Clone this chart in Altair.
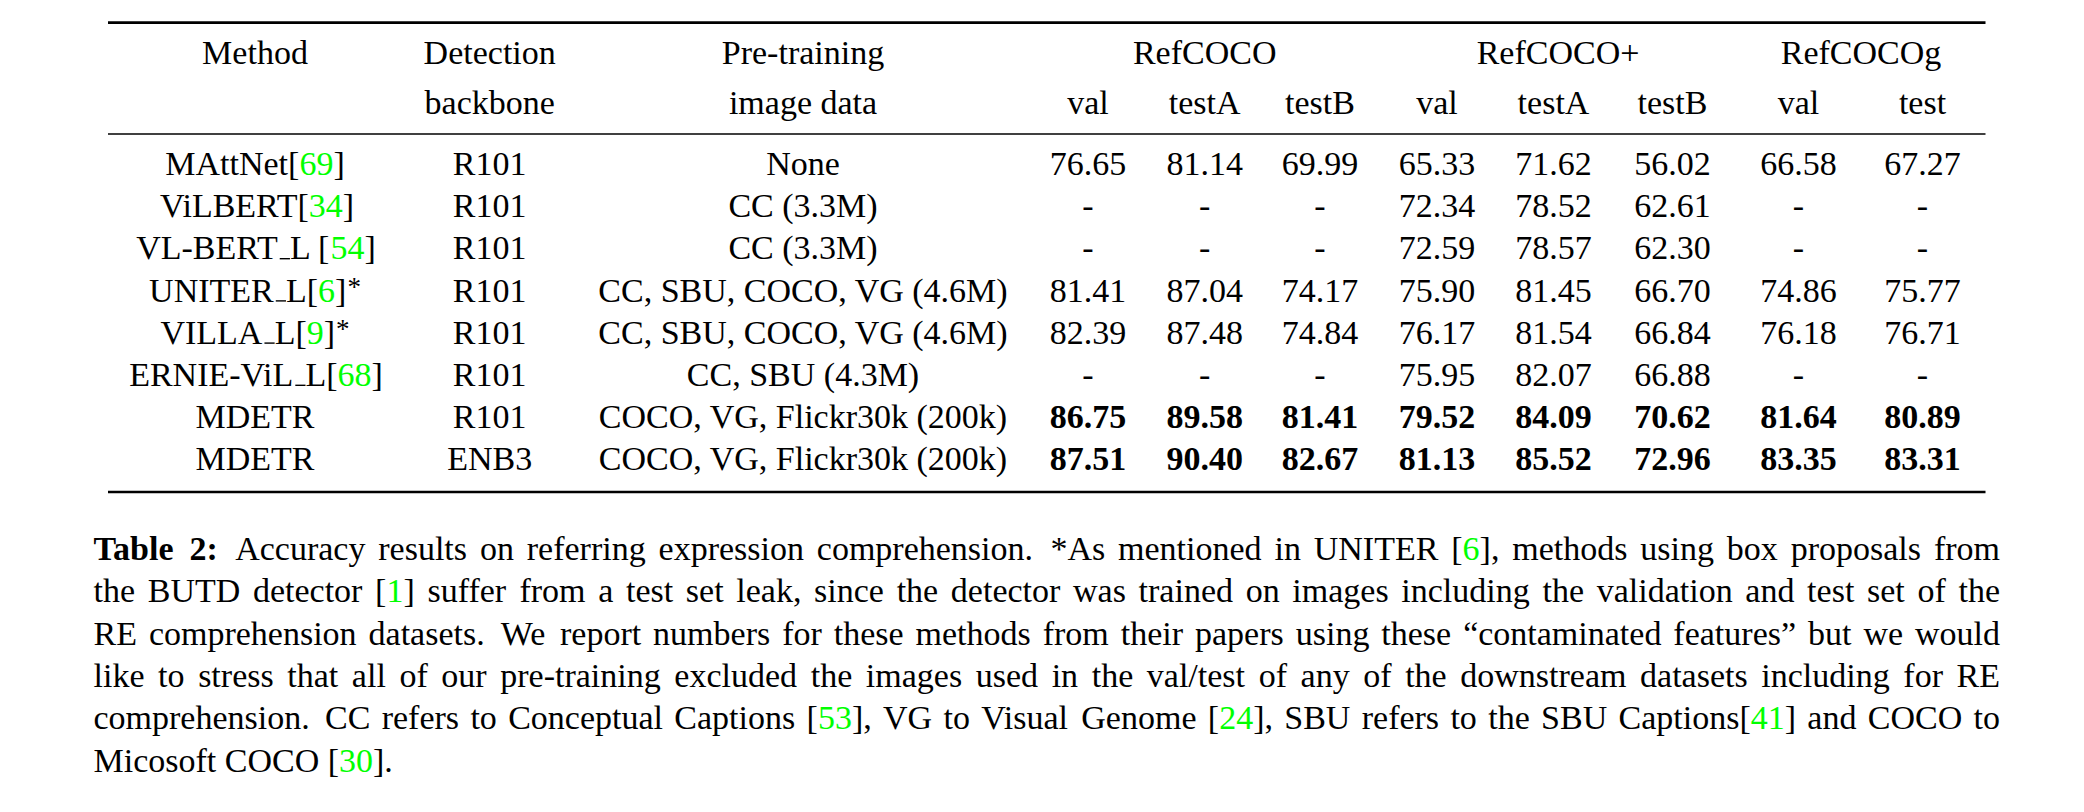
import re
import altair as alt
import pandas as pd

# ---------------- data ----------------
methods = ["MAttNet[{69}]", "ViLBERT[{34}]", "VL-BERT_L [{54}]", "UNITER_L[{6}]^*",
           "VILLA_L[{9}]^*", "ERNIE-ViL_L[{68}]", "MDETR", "MDETR"]
backbones = ["R101", "R101", "R101", "R101", "R101", "R101", "R101", "ENB3"]
pretrain_data = ["None", "CC (3.3M)", "CC (3.3M)", "CC, SBU, COCO, VG (4.6M)",
                 "CC, SBU, COCO, VG (4.6M)", "CC, SBU (4.3M)",
                 "COCO, VG, Flickr30k (200k)", "COCO, VG, Flickr30k (200k)"]
refcoco_val = [76.65, None, None, 81.41, 82.39, None, 86.75, 87.51]
refcoco_testA = [81.14, None, None, 87.04, 87.48, None, 89.58, 90.40]
refcoco_testB = [69.99, None, None, 74.17, 74.84, None, 81.41, 82.67]
refcocop_val = [65.33, 72.34, 72.59, 75.90, 76.17, 75.95, 79.52, 81.13]
refcocop_testA = [71.62, 78.52, 78.57, 81.45, 81.54, 82.07, 84.09, 85.52]
refcocop_testB = [56.02, 62.61, 62.30, 66.70, 66.84, 66.88, 70.62, 72.96]
refcocog_val = [66.58, None, None, 74.86, 76.18, None, 81.64, 83.35]
refcocog_test = [67.27, None, None, 75.77, 76.71, None, 80.89, 83.31]

header_top = ["Method", "Detection", "Pre-training"]
header_bottom = ["", "backbone", "image data"]
datasets = ["RefCOCO", "RefCOCO+", "RefCOCOg"]
splits = ["val", "testA", "testB", "val", "testA", "testB", "val", "test"]

caption_label = "Table 2:"
caption_lines = [
    "Accuracy results on referring expression comprehension. *As mentioned in UNITER [{6}], methods using box proposals from",
    "the BUTD detector [{1}] suffer from a test set leak, since the detector was trained on images including the validation and test set of the",
    "RE comprehension datasets. We report numbers for these methods from their papers using these \u201ccontaminated features\u201d but we would",
    "like to stress that all of our pre-training excluded the images used in the val/test of any of the downstream datasets including for RE",
    "comprehension. CC refers to Conceptual Captions [{53}], VG to Visual Genome [{24}], SBU refers to the SBU Captions[{41}] and COCO to",
    "Micosoft COCO [{30}].",
]

# ---------------- layout / style ----------------
FONT = "Liberation Serif"
FS = 34
BLACK = "#000000"
GREEN = "#00ff00"
BOLD_ROWS = {6, 7}
COL_X = [255, 489.7, 803, 1088, 1204.7, 1320, 1437, 1553.5, 1672.5, 1798.5, 1922.5]
GROUP_X = [1204.7, 1558, 1861]
HEAD_Y = [64, 114]
ROW_Y0, ROW_STEP = 175, 42.2
RULE_X = (108, 1985.5)
RULES_Y = [(22.7, 2.7), (134, 1.7), (492, 2.7)]
CAP_LEFT, CAP_RIGHT = 93.5, 2000
CAP_Y0, CAP_STEP = 560, 42.3
SUP_FS, SUP_RAISE = 27, 5.5

# Times (Liberation Serif) advance widths, 1/1000 em
_REG = {' ': 250, '!': 333, '"': 408, '#': 500, '$': 500, '%': 833, '&': 778, "'": 333,
        '(': 333, ')': 333, '*': 500, '+': 564, ',': 250, '-': 333, '.': 250, '/': 278,
        ':': 278, ';': 278, '?': 444, '[': 333, ']': 333, '_': 500,
        '\u201c': 444, '\u201d': 444}
for d in "0123456789":
    _REG[d] = 500
_REG.update(dict(zip("ABCDEFGHIJKLMNOPQRSTUVWXYZ",
                     [722, 667, 667, 722, 611, 556, 722, 722, 333, 389, 722, 611, 889,
                      722, 722, 556, 722, 667, 556, 611, 722, 722, 944, 722, 722, 611])))
_REG.update(dict(zip("abcdefghijklmnopqrstuvwxyz",
                     [444, 500, 444, 500, 444, 333, 500, 500, 278, 278, 500, 278, 778,
                      500, 500, 500, 500, 333, 389, 278, 500, 500, 722, 500, 500, 444])))
_BOLD = dict(_REG)
_BOLD.update({'T': 667, 'a': 500, 'b': 556, 'l': 278, 'e': 444, ':': 333, ' ': 250})


def tw(s, fs, bold=False):
    tab = _BOLD if bold else _REG
    return sum(tab.get(c, 500) for c in s) * fs / 1000.0


TOK = re.compile(r"\{([^}]*)\}|(\^\*)|(_)|([^{^_]+)")


def runs(s):
    out = []
    for m in TOK.finditer(s):
        if m.group(1) is not None:
            out.append(("cite", m.group(1)))
        elif m.group(2):
            out.append(("sup", "*"))
        elif m.group(3):
            out.append(("us", ""))
        else:
            out.append(("txt", m.group(4)))
    return out


def run_w(kind, text, fs, bold=False):
    if kind in ("txt", "cite"):
        return tw(text, fs, bold)
    if kind == "sup":
        return SUP_FS * 0.5 + 1
    return 0.36 * fs


seg_rows, ctr_reg, ctr_bold, rules = [], [], [], []


def place_runs(rlist, x, y, fs, bold):
    n = len(rlist)
    for i, (kind, text) in enumerate(rlist):
        w = run_w(kind, text, fs, bold)
        if kind in ("txt", "cite"):
            # the first run of a multi-run group is anchored at its end so that
            # kerning inside it cannot open a gap before the next run
            right = (i == 0 and n > 1)
            seg_rows.append({"x": x + w if right else x, "y": y, "text": text, "fs": fs,
                             "color": GREEN if kind == "cite" else BLACK,
                             "bold": bold, "al": "right" if right else "left"})
        elif kind == "sup":
            seg_rows.append({"x": x + 1, "y": y - SUP_RAISE, "text": "*", "fs": SUP_FS,
                             "color": BLACK, "bold": False, "al": "left"})
        else:
            rules.append({"x": x + 0.06 * fs, "x2": x + 0.36 * fs, "y": y - 0.7, "w": 1.4})
        x += w
    return x


# header
for i in range(3):
    ctr_reg.append({"x": COL_X[i], "y": HEAD_Y[0], "text": header_top[i]})
    if header_bottom[i]:
        ctr_reg.append({"x": COL_X[i], "y": HEAD_Y[1], "text": header_bottom[i]})
for gx, name in zip(GROUP_X, datasets):
    ctr_reg.append({"x": gx, "y": HEAD_Y[0], "text": name})
for j, sp in enumerate(splits):
    ctr_reg.append({"x": COL_X[3 + j], "y": HEAD_Y[1], "text": sp})

# body
value_cols = [refcoco_val, refcoco_testA, refcoco_testB, refcocop_val, refcocop_testA,
              refcocop_testB, refcocog_val, refcocog_test]
for r in range(len(methods)):
    y = ROW_Y0 + r * ROW_STEP
    m = methods[r]
    rl = runs(m)
    if len(rl) == 1 and rl[0][0] == "txt":
        ctr_reg.append({"x": COL_X[0], "y": y, "text": m})
    else:
        total = sum(run_w(k, t, FS) for k, t in rl)
        place_runs(rl, COL_X[0] - total / 2, y, FS, False)
    ctr_reg.append({"x": COL_X[1], "y": y, "text": backbones[r]})
    ctr_reg.append({"x": COL_X[2], "y": y, "text": pretrain_data[r]})
    for j, col in enumerate(value_cols):
        v = col[r]
        txt = "-" if v is None else f"{v:.2f}"
        target = ctr_bold if (r in BOLD_ROWS and v is not None) else ctr_reg
        target.append({"x": COL_X[3 + j], "y": y, "text": txt})

for ry, w in RULES_Y:
    rules.append({"x": RULE_X[0], "x2": RULE_X[1], "y": ry, "w": w})

# caption (justified)
for li, line in enumerate(caption_lines):
    y = CAP_Y0 + li * CAP_STEP
    words = [(w, False) for w in line.split(" ")]
    if li == 0:
        words = [(w, True) for w in caption_label.split(" ")] + words
    widths = [sum(run_w(k, t, FS, b) for k, t in runs(w)) for w, b in words]
    weights = [1.35 if words[i][0].endswith((".", ":")) else 1.0 for i in range(len(words) - 1)]
    if li < len(caption_lines) - 1:
        unit = (CAP_RIGHT - CAP_LEFT - sum(widths)) / sum(weights)
    else:
        unit = 0.25 * FS
    x = CAP_LEFT
    for i, (w, b) in enumerate(words):
        place_runs(runs(w), x, y, FS, b)
        x += widths[i]
        if i < len(weights):
            x += unit * weights[i]

# ---------------- chart ----------------
W, H = 2060, 792
xs = alt.Scale(domain=[8, 8 + W], range=[0, W], zero=False, nice=False)
ys = alt.Scale(domain=[8, 8 + H], range=[0, H], zero=False, nice=False)
X = alt.X("x:Q", scale=xs, axis=None)
Y = alt.Y("y:Q", scale=ys, axis=None)


def centered(rows, bold):
    return alt.Chart(pd.DataFrame(rows)).mark_text(
        align="center", baseline="alphabetic", font=FONT, fontSize=FS,
        fontWeight="bold" if bold else "normal", color=BLACK
    ).encode(x=X, y=Y, text="text:N")


seg_df = pd.DataFrame(seg_rows)


def segs(bold, al):
    sub = seg_df[(seg_df["bold"] == bold) & (seg_df["al"] == al)]
    return alt.Chart(sub).mark_text(
        align=al, baseline="alphabetic", font=FONT,
        fontWeight="bold" if bold else "normal"
    ).encode(x=X, y=Y, text="text:N",
             color=alt.Color("color:N", scale=None, legend=None),
             size=alt.Size("fs:Q", scale=None, legend=None))


rule_layer = alt.Chart(pd.DataFrame(rules)).mark_rule(color=BLACK).encode(
    x=X, x2="x2:Q", y=Y,
    strokeWidth=alt.StrokeWidth("w:Q", scale=None, legend=None))

layers = [rule_layer, centered(ctr_reg, False), centered(ctr_bold, True)]
for b in (False, True):
    for al in ("left", "right"):
        if ((seg_df["bold"] == b) & (seg_df["al"] == al)).any():
            layers.append(segs(b, al))

chart = alt.layer(*layers).properties(
    width=W, height=H, padding=0, background="white",
    autosize=alt.AutoSizeParams(type="none"),
).configure_view(stroke=None)

chart.save("out.html", embed_options={"renderer": "svg", "actions": False})
